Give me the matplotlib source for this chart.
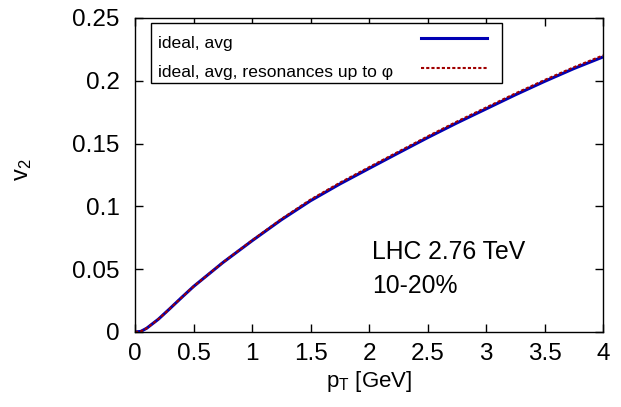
import numpy as np
import matplotlib
matplotlib.use("Agg")
import matplotlib.pyplot as plt
from matplotlib.patches import Rectangle
from matplotlib.lines import Line2D

plt.rcParams['font.family'] = ['Liberation Sans', 'DejaVu Sans']
plt.rcParams['mathtext.fontset'] = 'custom'
plt.rcParams['mathtext.rm'] = 'Liberation Sans'
plt.rcParams['mathtext.it'] = 'Liberation Sans'

### v2(pT)
pt = [0, 0.05, 0.1, 0.2, 0.3, 0.4, 0.5, 0.75, 1.0, 1.25, 1.5, 1.75, 2.0,
      2.25, 2.5, 2.75, 3.0, 3.25, 3.5, 3.75, 4.0]
v2_avg = [0, 0.0005, 0.003, 0.0102, 0.0188, 0.0276, 0.0362, 0.0552, 0.0726,
          0.0893, 0.1045, 0.1178, 0.1302, 0.1425, 0.1547, 0.1664, 0.1776,
          0.1888, 0.1995, 0.2097, 0.2190]
v2_res = [0, 0.0005, 0.003, 0.0102, 0.0188, 0.0276, 0.0362, 0.0553, 0.0729,
          0.0899, 0.1054, 0.1188, 0.1312, 0.1435, 0.1557, 0.1675, 0.1787,
          0.1899, 0.2006, 0.2108, 0.2202]

labels = ['ideal, avg', 'ideal, avg, resonances up to \u03c6']
xticks = [0, 0.5, 1, 1.5, 2, 2.5, 3, 3.5, 4]
yticks = [0, 0.05, 0.1, 0.15, 0.2, 0.25]

blue = '#0000b4'
red = '#a00000'

fig = plt.figure(figsize=(6.21, 4.07), dpi=100)
ax = fig.add_axes([135/621, 75/407, 468/621, 314/407])

ax.plot(pt, v2_avg, color=blue, lw=2.2, solid_capstyle='butt')
ax.plot(pt, v2_res, color=red, lw=1.5, dashes=(1.5, 1.0))

ax.set_xlim(0, 4)
ax.set_ylim(0, 0.25)
ax.set_xticks(xticks)
ax.set_xticklabels(['%g' % t for t in xticks])
ax.set_yticks(yticks)
ax.set_yticklabels(['%g' % t for t in yticks])
ax.tick_params(direction='in', top=True, right=True, length=6, width=1,
               labelsize=17.5)
ax.tick_params(axis='x', pad=8)
ax.tick_params(axis='y', pad=11)
for s in ax.spines.values():
    s.set_linewidth(1)

fig.text(369/621, 20/407, r'$\mathregular{p_T}$ [GeV]', ha='center',
         va='baseline', fontsize=16)
fig.text(23/621, 0.582, r'$\mathregular{v_2}$', ha='center', va='center',
         rotation=90, fontsize=17)

### key box, drawn by hand so the texts are left justified
ax.add_patch(Rectangle((0.034, 0.793), 0.75, 0.191, transform=ax.transAxes,
                       facecolor='white', edgecolor='black', lw=1, zorder=5))
ax.text(0.049, 0.9035, labels[0], transform=ax.transAxes, fontsize=12.6,
        va='baseline', zorder=6)
ax.text(0.049, 0.813, labels[1], transform=ax.transAxes, fontsize=12.6,
        va='baseline', zorder=6)
ax.add_line(Line2D([0.611, 0.752], [0.936, 0.936], transform=ax.transAxes,
                   color=blue, lw=2.2, zorder=6))
ax.add_line(Line2D([0.611, 0.752], [0.841, 0.841], transform=ax.transAxes,
                   color=red, lw=1.5, dashes=(1.5, 1.0), zorder=6))

ax.text(0.506, 0.232, 'LHC 2.76 TeV', transform=ax.transAxes, fontsize=17.8,
        va='baseline')
ax.text(0.506, 0.124, '10-20%', transform=ax.transAxes, fontsize=17.8,
        va='baseline')

plt.savefig('out.png', dpi=100)
